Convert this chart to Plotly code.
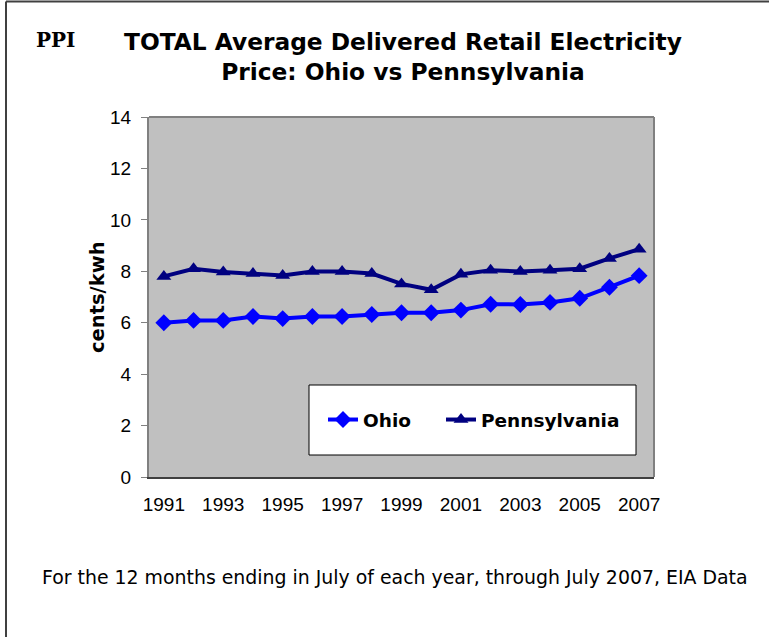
import plotly.graph_objects as go

years = list(range(1991, 2008))
ohio = [6.00, 6.09, 6.09, 6.24, 6.16, 6.24, 6.24, 6.32, 6.39, 6.39, 6.49, 6.72, 6.71, 6.79, 6.95, 7.38, 7.83]
penn = [7.80, 8.10, 7.97, 7.91, 7.84, 7.99, 7.99, 7.91, 7.51, 7.28, 7.88, 8.04, 7.99, 8.04, 8.10, 8.50, 8.86]
xtick_years = [1991, 1993, 1995, 1997, 1999, 2001, 2003, 2005, 2007]
ytick_vals = [0, 2, 4, 6, 8, 10, 12, 14]

W, H = 769, 637
L, R, T, B = 149, 654, 117, 477

def px(x):
    return (x - L) / (R - L)

def py(y):
    return (B - y) / (B - T)

font = "Liberation Sans, Arial, sans-serif"
wide = "DejaVu Sans, sans-serif"

fig = go.Figure()
fig.add_trace(go.Scatter(
    x=years, y=ohio, name="Ohio", mode="lines+markers",
    line=dict(color="#0000FF", width=4),
    marker=dict(symbol="diamond", size=13, color="#0000FF"),
    legend="legend",
))
fig.add_trace(go.Scatter(
    x=years, y=penn, name="Pennsylvania", mode="lines+markers",
    line=dict(color="#000080", width=4),
    marker=dict(symbol="triangle-up", size=13, color="#000080"),
    legend="legend2",
))

legend_font = dict(family=wide, size=18.5, color="black", weight="bold")

fig.update_layout(
    width=W, height=H,
    margin=dict(l=L, r=W - R, t=T, b=H - B),
    paper_bgcolor="white",
    plot_bgcolor="#C0C0C0",
    font=dict(family=font, color="black"),
    showlegend=True,
    legend=dict(
        orientation="h", x=px(323), y=py(420), xanchor="left", yanchor="middle",
        bgcolor="rgba(0,0,0,0)", borderwidth=0, font=legend_font, itemwidth=30,
    ),
    legend2=dict(
        orientation="h", x=px(441), y=py(420), xanchor="left", yanchor="middle",
        bgcolor="rgba(0,0,0,0)", borderwidth=0, font=legend_font, itemwidth=30,
    ),
    xaxis=dict(
        range=[1990.5, 2007.5], tickmode="array", tickvals=xtick_years,
        ticktext=[str(y) for y in xtick_years], showgrid=False, zeroline=False,
        showline=True, linecolor="#404040", linewidth=2, ticks="",
        ticklabelstandoff=9,
        tickfont=dict(family=font, size=19, color="black"),
    ),
    yaxis=dict(
        range=[0, 14], tickmode="array", tickvals=ytick_vals, showgrid=False,
        zeroline=False, showline=True, linecolor="#808080", linewidth=2,
        ticks="outside", ticklen=6, tickcolor="#808080", tickwidth=1,
        ticklabelstandoff=6,
        tickfont=dict(family=font, size=19, color="black"),
    ),
    shapes=[
        dict(type="line", xref="paper", yref="paper", x0=0, y0=1, x1=1, y1=1,
             line=dict(color="#808080", width=2)),
        dict(type="line", xref="paper", yref="paper", x0=1, y0=0, x1=1, y1=1,
             line=dict(color="#808080", width=2)),
        dict(type="rect", xref="paper", yref="paper", x0=px(309), x1=px(636),
             y0=py(455), y1=py(385), fillcolor="white",
             line=dict(color="black", width=1), layer="above"),
        dict(type="line", xref="paper", yref="paper", x0=px(6), y0=py(640),
             x1=px(6), y1=py(1.5), line=dict(color="#404040", width=2)),
        dict(type="line", xref="paper", yref="paper", x0=px(6), y0=py(1.5),
             x1=px(772), y1=py(1.5), line=dict(color="#404040", width=2)),
    ],
    annotations=[
        dict(text="<b>TOTAL Average Delivered Retail Electricity<br>Price: Ohio vs Pennsylvania</b>",
             xref="paper", yref="paper", x=px(403), y=py(57), xanchor="center",
             yanchor="middle", showarrow=False, align="center",
             font=dict(family=wide, size=23.3, color="black")),
        dict(text="<b>PPI</b>", xref="paper", yref="paper", x=px(55), y=py(40),
             xanchor="center", yanchor="middle", showarrow=False,
             font=dict(family="DejaVu Serif, serif", size=20, color="black")),
        dict(text="<b>cents/kwh</b>", xref="paper", yref="paper", x=px(97), y=0.5,
             xanchor="center", yanchor="middle", showarrow=False, textangle=-90,
             font=dict(family=wide, size=19.5, color="black")),
        dict(text="For the 12 months ending in July of each year, through July 2007, EIA Data",
             xref="paper", yref="paper", x=px(395), y=py(577), xanchor="center",
             yanchor="middle", showarrow=False,
             font=dict(family=wide, size=18.9, color="black")),
    ],
)

fig.write_html("out.html", config={"displayModeBar": False},
               post_script="document.body.style.margin='0';")
